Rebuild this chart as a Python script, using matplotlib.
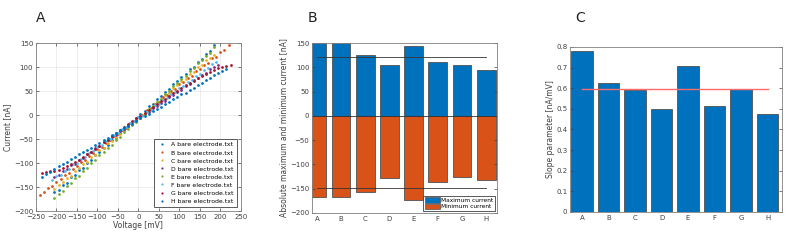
import numpy as np
import matplotlib
matplotlib.use('Agg')
import matplotlib.pyplot as plt
from matplotlib.patches import Patch

# ---- data ----
electrodes = ['A', 'B', 'C', 'D', 'E', 'F', 'G', 'H']
colors = ['#0072BD', '#D95319', '#EDB120', '#7E2F8E', '#77AC30', '#4DBEEE', '#A2142F', '#0072BD']

# panel A: I-V scatter, voltage [mV] and current [nA] per electrode
v_A = [-205, -195, -185, -175, -165, -155, -145, -135, -125, -115, -105, -95, -85, -75, -65, -55, -45, -35, -25, -15,
       -5, 5, 15, 25, 35, 45, 55, 65, 75, 85, 95, 105, 115, 125, 135, 145, 155, 165, 175, 185]
i_A = [-160, -156, -146, -141, -130, -125, -115, -110, -99, -94, -84, -78, -68, -63, -52, -47, -37, -31, -21, -16,
       -6, 2, 8, 18, 23, 33, 39, 49, 54, 65, 70, 80, 86, 96, 101, 111, 117, 127, 133, 146]
v_B = [-240, -230, -220, -210, -200, -190, -180, -170, -160, -150, -140, -130, -120, -110, -100, -90, -80, -70, -60, -50,
       -40, -30, -20, -10, 0, 10, 20, 30, 40, 50, 60, 70, 80, 90, 100, 110, 120, 130, 140, 150, 160, 170, 180, 190,
       200, 210, 220]
i_B = [-167, -161, -152, -148, -139, -134, -125, -121, -112, -107, -98, -94, -85, -80, -71, -67, -58, -53, -44, -40,
       -31, -26, -17, -13, -4, 1, 10, 14, 23, 28, 37, 41, 50, 55, 64, 68, 77, 82, 91, 95, 104, 109, 118, 122,
       131, 136, 147]
v_C = [-205, -195, -185, -175, -165, -155, -145, -135, -125, -115, -105, -95, -85, -75, -65, -55, -45, -35, -25, -15,
       -5, 5, 15, 25, 35, 45, 55, 65, 75, 85, 95, 105, 115, 125, 135, 145, 155, 165, 175, 185]
i_C = [-155, -145, -140, -131, -126, -116, -111, -102, -97, -88, -83, -73, -68, -59, -54, -45, -39, -30, -25, -16,
       -10, -1, 4, 13, 18, 27, 33, 42, 47, 56, 62, 71, 76, 85, 90, 100, 105, 114, 119, 125]
v_D = [-205, -195, -185, -175, -165, -155, -145, -135, -125, -115, -105, -95, -85, -75, -65, -55, -45, -35, -25, -15,
       -5, 5, 15, 25, 35, 45, 55, 65, 75, 85, 95, 105, 115, 125, 135, 145, 155, 165, 175, 185, 195]
i_D = [-129, -124, -116, -113, -104, -101, -93, -89, -81, -77, -69, -65, -57, -53, -45, -41, -34, -30, -22, -18,
       -10, -6, 2, 6, 14, 18, 25, 29, 37, 41, 49, 53, 61, 65, 73, 77, 84, 88, 96, 100, 105]
v_E = [-205, -195, -185, -175, -165, -155, -145, -135, -125, -115, -105, -95, -85, -75, -65, -55, -45, -35, -25, -15,
       -5, 5, 15, 25, 35, 45, 55, 65, 75, 85, 95, 105, 115, 125, 135, 145, 155, 165, 175, 185]
i_E = [-173, -164, -158, -148, -142, -132, -126, -116, -110, -100, -94, -84, -78, -68, -62, -52, -46, -36, -30, -20,
       -14, -4, 2, 12, 18, 28, 34, 44, 50, 60, 66, 76, 82, 92, 98, 108, 114, 124, 130, 141]
v_F = [-210, -200, -190, -180, -170, -160, -150, -140, -130, -120, -110, -100, -90, -80, -70, -60, -50, -40, -30, -20,
       -10, 0, 10, 20, 30, 40, 50, 60, 70, 80, 90, 100, 110, 120, 130, 140, 150, 160, 170, 180, 190]
i_F = [-135, -128, -124, -116, -112, -103, -99, -91, -87, -79, -75, -67, -62, -54, -50, -42, -38, -30, -25, -17,
       -13, -5, -1, 7, 11, 20, 24, 32, 36, 44, 48, 57, 61, 69, 73, 81, 85, 93, 98, 106, 111]
v_G = [-235, -225, -215, -205, -195, -185, -175, -165, -155, -145, -135, -125, -115, -105, -95, -85, -75, -65, -55, -45,
       -35, -25, -15, -5, 5, 15, 25, 35, 45, 55, 65, 75, 85, 95, 105, 115, 125, 135, 145, 155, 165, 175, 185, 195,
       205, 215, 225]
i_G = [-121, -118, -116, -116, -114, -111, -107, -103, -98, -93, -88, -82, -76, -70, -64, -57, -51, -44, -38, -32,
       -25, -19, -13, -7, -1, 5, 11, 17, 23, 29, 34, 40, 45, 51, 56, 62, 67, 72, 77, 82, 86, 90, 94, 98,
       101, 103, 105]
v_H = [-235, -225, -215, -205, -195, -185, -175, -165, -155, -145, -135, -125, -115, -105, -95, -85, -75, -65, -55, -45,
       -35, -25, -15, -5, 5, 15, 25, 35, 45, 55, 65, 75, 85, 95, 105, 115, 125, 135, 145, 155, 165, 175, 185, 195,
       205, 215]
i_H = [-130, -122, -118, -113, -107, -103, -98, -92, -88, -82, -78, -72, -68, -62, -58, -52, -48, -42, -38, -32,
       -28, -22, -18, -12, -7, -2, 3, 8, 13, 17, 23, 27, 33, 37, 43, 47, 53, 57, 63, 67, 73, 77, 83, 87,
       92, 95]

voltages = [v_A, v_B, v_C, v_D, v_E, v_F, v_G, v_H]
currents = [i_A, i_B, i_C, i_D, i_E, i_F, i_G, i_H]

# panel B: max / min currents [nA] and their means
max_current = [150, 150, 125, 105, 143, 111, 105, 95]
min_current = [-168, -168, -156, -129, -174, -136, -125, -133]
mean_max = 122
mean_min = -148

# panel C: slope parameter [nA/mV]
slope = [0.778, 0.625, 0.592, 0.500, 0.708, 0.513, 0.597, 0.476]
mean_slope = 0.598

# ---- plotting ----
plt.rcParams['font.family'] = 'DejaVu Sans'
fs = 5
tick_col = '#404040'

fig = plt.figure(figsize=(7.94, 2.42), dpi=100)


def matlab_style(ax):
    for s in ax.spines.values():
        s.set_color('#808080')
        s.set_linewidth(0.6)
    ax.tick_params(direction='in', length=2, width=0.5, labelsize=fs, colors=tick_col,
                   top=True, right=True, pad=2)


# A
ax1 = fig.add_axes([0.0453, 0.128, 0.258, 0.694])
for k, name in enumerate(electrodes):
    ax1.plot(voltages[k], currents[k], linestyle='none', marker='o', markersize=2.0,
             color=colors[k], markeredgewidth=0, label=name + ' bare electrode.txt')
ax1.set_xlim(-250, 250)
ax1.set_ylim(-200, 150)
ax1.set_xticks(np.arange(-250, 251, 50))
ax1.set_yticks(np.arange(-200, 151, 50))
ax1.grid(True, color='#e6e6e6', linewidth=0.5)
ax1.set_axisbelow(True)
ax1.set_xlabel('Voltage [mV]', fontsize=fs + 0.5, color=tick_col, labelpad=1)
ax1.set_ylabel('Current [nA]', fontsize=fs + 0.5, color=tick_col, labelpad=1)
matlab_style(ax1)
leg = ax1.legend(loc='lower right', fontsize=4.4, markerscale=0.8, handlelength=1.5,
                 labelspacing=0.45, borderpad=0.5, fancybox=False, edgecolor='#404040',
                 framealpha=1, borderaxespad=0.7)
leg.get_frame().set_linewidth(0.6)
fig.text(0.045, 0.925, 'A', fontsize=10, color='#222222', va='center')

# B
ax2 = fig.add_axes([0.393, 0.120, 0.233, 0.702])
xpos = np.arange(1, len(electrodes) + 1)
ax2.bar(xpos, max_current, width=0.78, color='#0072BD', edgecolor='#505050', linewidth=0.6)
ax2.bar(xpos, min_current, width=0.78, color='#D95319', edgecolor='#505050', linewidth=0.6)
ax2.axhline(0, color='#333333', linewidth=0.6)
ax2.plot([xpos[0], xpos[-1]], [mean_max, mean_max], color='#333333', linewidth=0.6)
ax2.plot([xpos[0], xpos[-1]], [mean_min, mean_min], color='#333333', linewidth=0.6)
ax2.set_xlim(0.8, 8.45)
ax2.set_ylim(-200, 150)
ax2.set_yticks(np.arange(-200, 151, 50))
ax2.set_xticks(xpos)
ax2.set_xticklabels(electrodes)
ax2.set_ylabel('Absolute maximum and minimum current [nA]', fontsize=fs + 0.5, color=tick_col, labelpad=1)
matlab_style(ax2)
ax2.tick_params(axis='x', length=0)
leg2 = ax2.legend(handles=[Patch(facecolor='#0072BD', edgecolor='#505050', linewidth=0.5),
                           Patch(facecolor='#D95319', edgecolor='#505050', linewidth=0.5)],
                  labels=['Maximum current', 'Minimum current'], loc='lower right',
                  fontsize=4.2, handlelength=2.6, handleheight=1.1, labelspacing=0.1,
                  borderpad=0.3, fancybox=False, edgecolor='#404040', framealpha=1,
                  borderaxespad=0.3, handletextpad=0.2)
leg2.get_frame().set_linewidth(0.6)
fig.text(0.387, 0.925, 'B', fontsize=10, color='#222222', va='center')

# C
ax3 = fig.add_axes([0.718, 0.124, 0.267, 0.682])
ax3.bar(xpos, slope, width=0.8, color='#0072BD', edgecolor='#505050', linewidth=0.6)
ax3.plot([xpos[0], xpos[-1]], [mean_slope, mean_slope], color='#FF6A6A', linewidth=1.0, zorder=5)
ax3.set_xlim(0.55, 8.55)
ax3.set_ylim(0, 0.8)
ax3.set_yticks(np.arange(0, 0.81, 0.1))
ax3.set_yticklabels(['0', '0.1', '0.2', '0.3', '0.4', '0.5', '0.6', '0.7', '0.8'])
ax3.set_xticks(xpos)
ax3.set_xticklabels(electrodes)
ax3.set_ylabel('Slope parameter [nA/mV]', fontsize=fs + 0.5, color=tick_col, labelpad=1)
matlab_style(ax3)
ax3.tick_params(axis='x', length=0)
fig.text(0.725, 0.925, 'C', fontsize=10, color='#222222', va='center')

fig.savefig('out.png', dpi=100)
